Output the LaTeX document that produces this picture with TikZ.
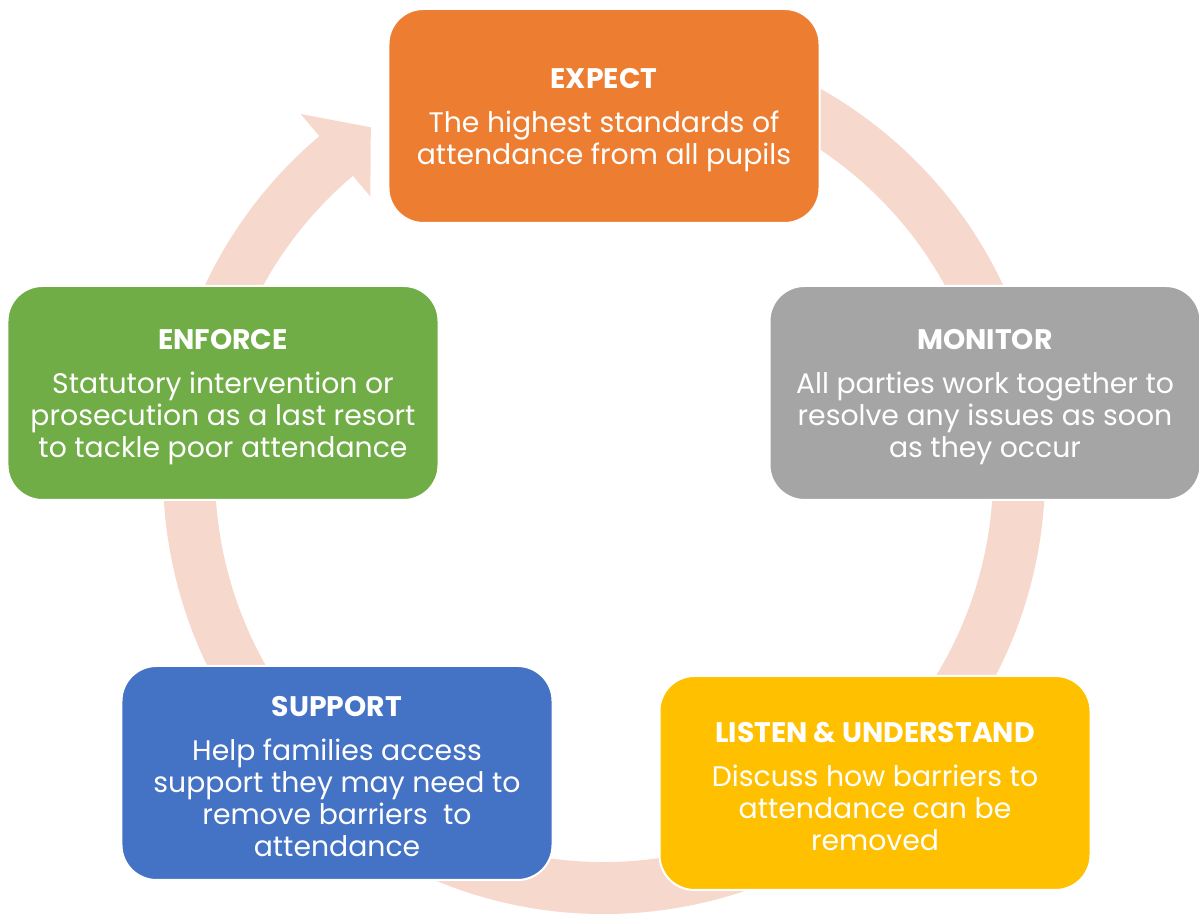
\documentclass[tikz,border=0pt]{standalone}
\usepackage{fontspec}
\setmainfont{Poppins}
\definecolor{ringpink}{HTML}{F7D8CC}
\definecolor{expectc}{HTML}{ED7D31}
\definecolor{monitorc}{HTML}{A5A5A5}
\definecolor{listenc}{HTML}{FFC000}
\definecolor{supportc}{HTML}{4472C4}
\definecolor{enforcec}{HTML}{70AD47}
\newcommand\cardhead[1]{\rule{0pt}{5.6mm}{\bfseries #1}\\[2.4mm]}
\begin{document}
\begin{tikzpicture}[x=0.2mm,y=0.2mm,line join=round,
	card/.style={fill=#1,draw=white,line width=0.4mm,rounded corners=7mm,minimum width=86.2mm,minimum height=42.8mm,inner sep=0pt,align=center,text=white,font=\fontsize{16.1}{18.2}\selectfont},
	ring/.style={ringpink,line width=10.4mm}]
	\useasboundingbox (0,0) rectangle (1199,914);
	\coordinate (c) at (604,441);
	\draw[ring] ([shift={(100:415)}]c) arc[start angle=100,end angle=-230,radius=415];
	\fill[ringpink] ([shift={(130.2:470)}]c)--([shift={(124:417)}]c)--([shift={(130.2:362)}]c)--cycle;
	\node[card=expectc] (expect) at (604,798) {\cardhead{EXPECT}The highest standards of\\attendance from all pupils};
	\node[card=monitorc] (monitor) at (985,521) {\cardhead{MONITOR}All parties work together to\\resolve any issues as soon\\as they occur};
	\node[card=listenc] (listen) at (875,131) {\cardhead{LISTEN \& UNDERSTAND}Discuss how barriers to\\attendance can be\\removed};
	\node[card=supportc] (support) at (337,141) {\cardhead{SUPPORT}Help families access\\support they may need to\\remove barriers\ \ to\\attendance};
	\node[card=enforcec] (enforce) at (223,521) {\cardhead{ENFORCE}Statutory intervention or\\prosecution as a last resort\\to tackle poor attendance};
\end{tikzpicture}
\end{document}
